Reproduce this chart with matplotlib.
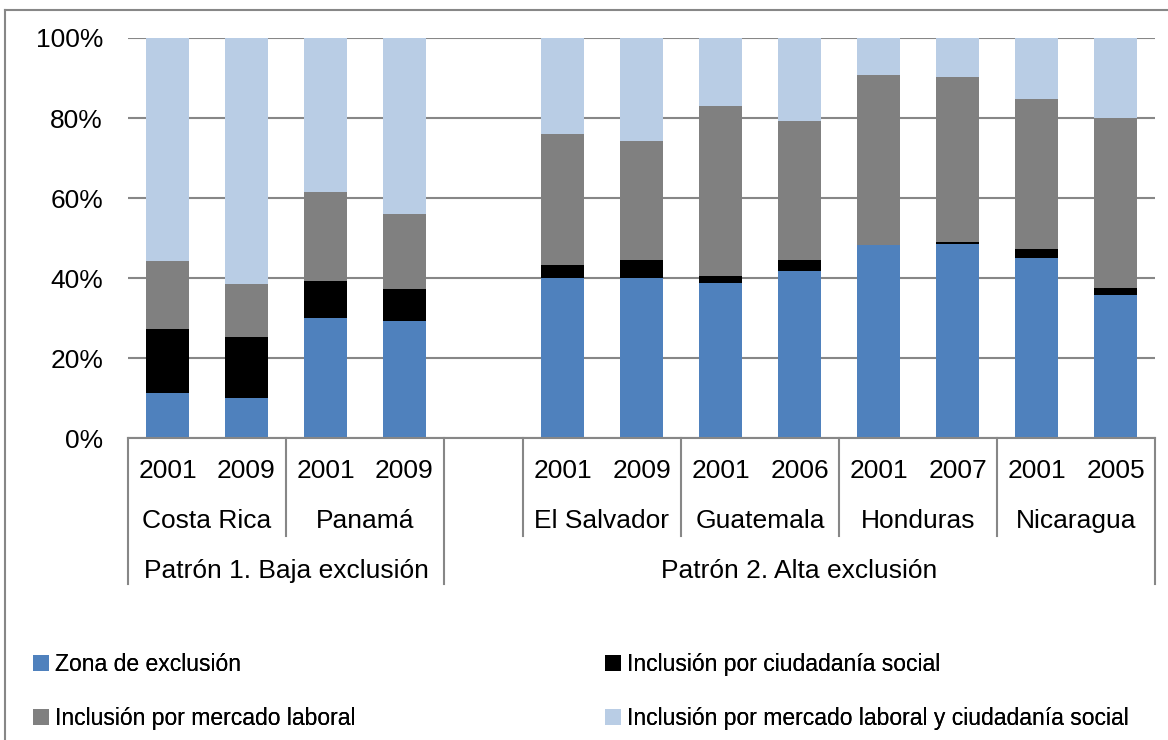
"""Stacked 100% bars: inclusion/exclusion patterns in Central America -> out.png."""
import matplotlib
matplotlib.use("Agg")
import matplotlib.pyplot as plt
from matplotlib.lines import Line2D
from matplotlib.patches import Patch

plt.rcParams["font.family"] = ["Liberation Sans", "DejaVu Sans"]

# slot 4 is the empty gap between the two patterns
positions = [0, 1, 2, 3, 5, 6, 7, 8, 9, 10, 11, 12]
years = ["2001", "2009", "2001", "2009", "2001", "2009",
         "2001", "2006", "2001", "2007", "2001", "2005"]
countries = ["Costa Rica", "Panamá", "El Salvador", "Guatemala", "Honduras", "Nicaragua"]
patterns = ["Patrón 1. Baja exclusión", "Patrón 2. Alta exclusión"]

exclusion = [11.3, 10.0, 30.1, 29.2, 40.1, 39.9, 38.8, 41.8, 48.3, 48.6, 44.9, 35.8]
ciudadania = [15.9, 15.2, 9.2, 8.1, 3.2, 4.6, 1.7, 2.7, 0.0, 0.4, 2.4, 1.8]
mercado = [17.1, 13.2, 22.2, 18.7, 32.7, 29.8, 42.4, 34.8, 42.4, 41.2, 37.4, 42.5]
ambos = [55.7, 61.6, 38.5, 44.0, 24.0, 25.7, 17.1, 20.7, 9.3, 9.8, 15.3, 19.9]

series = [
    ("Zona de exclusión", exclusion, "#4F81BD"),
    ("Inclusión por ciudadanía social", ciudadania, "#000000"),
    ("Inclusión por mercado laboral", mercado, "#808080"),
    ("Inclusión por mercado laboral y ciudadanía social", ambos, "#B9CDE5"),
]

W, H = 1168, 740
FS = 19
fig = plt.figure(figsize=(W / 100, H / 100), dpi=100)
ax = fig.add_axes([128 / W, (H - 438) / H, (1155 - 128) / W, 400 / H])

bottom = [0.0] * len(positions)
for name, vals, color in series:
    ax.bar(positions, vals, width=0.55, bottom=bottom, color=color,
           linewidth=0, zorder=3)
    bottom = [b + v for b, v in zip(bottom, vals)]

ax.set_xlim(-0.5, 12.5)
ax.set_ylim(0, 100)
ax.set_yticks(range(0, 101, 20))
ax.set_yticklabels([f"{v}%" for v in range(0, 101, 20)], fontsize=FS)
ax.tick_params(axis="y", length=0, pad=18)
ax.set_xticks([])
ax.grid(axis="y", color="#878787", linewidth=1.5, zorder=0)
for s in ["top", "right", "left"]:
    ax.spines[s].set_visible(False)
ax.spines["bottom"].set_color("#878787")
ax.spines["bottom"].set_linewidth(1.5)
ax.spines["bottom"].set_zorder(4)

# multi-level category axis
tr = ax.get_xaxis_transform()
y_year, y_country, y_pattern = -0.083, -0.208, -0.333
for p, yr in zip(positions, years):
    ax.text(p, y_year, yr, transform=tr, ha="center", va="center", fontsize=FS)
for i, c in enumerate(countries):
    x0 = positions[2 * i]
    ax.text(x0 + 0.5, y_country, c, transform=tr, ha="center", va="center",
            fontsize=FS)
ax.text(1.5, y_pattern, patterns[0], transform=tr, ha="center", va="center",
        fontsize=FS)
ax.text(8.0, y_pattern, patterns[1], transform=tr, ha="center", va="center",
        fontsize=FS)

sep_kw = dict(transform=tr, color="#878787", linewidth=1.5, clip_on=False)
for x in [1.5, 4.5, 6.5, 8.5, 10.5]:
    ax.add_line(Line2D([x, x], [0, -0.245], **sep_kw))
for x in [-0.5, 3.5, 12.5]:
    ax.add_line(Line2D([x, x], [0, -0.365], **sep_kw))

# outer chart border (top and left visible)
fig.add_artist(Line2D([5 / W, 1.0], [(H - 10) / H] * 2, transform=fig.transFigure,
                      color="#878787", linewidth=1.5))
fig.add_artist(Line2D([5 / W] * 2, [0, (H - 10) / H], transform=fig.transFigure,
                      color="#878787", linewidth=1.5))

# legend laid out row-wise: two single-column legends side by side
handles = [Patch(facecolor=c, edgecolor="none", label=n) for n, _, c in series]
leg_kw = dict(loc="upper left", frameon=False, fontsize=16.5,
              handlelength=0.7, handleheight=0.7, handletextpad=0.25,
              labelspacing=1.35, borderaxespad=0)
for col, x_px in enumerate([24, 596]):
    leg = fig.legend(handles=[handles[col], handles[col + 2]],
                     bbox_to_anchor=(x_px / W, (H - 644) / H), **leg_kw)
    fig.add_artist(leg)

fig.savefig("out.png", dpi=100)
